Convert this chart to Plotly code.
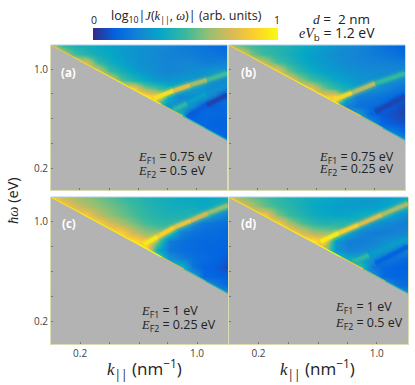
import plotly.graph_objects as go
from plotly.colors import sample_colorscale

W = 415
H = 385

parula = [[0, "#352a87"], [0.12, "#0363e1"], [0.25, "#1485d4"], [0.37, "#06a7c6"], [0.5, "#38b99e"],
          [0.62, "#92bf73"], [0.75, "#d9ba56"], [0.87, "#fcce2e"], [1, "#f9fb0e"]]

k_grid = [0.134, 0.158, 0.185, 0.218, 0.257, 0.302, 0.355, 0.418, 0.491, 0.578, 0.680, 0.799, 0.940, 1.106, 1.301, 1.530]
w_grid = [1.476, 1.283, 1.115, 0.969, 0.842, 0.731, 0.635, 0.552, 0.480, 0.417, 0.362, 0.315]

# light line, the gray part sits under it
edge_k = [0.134, 0.182, 0.246, 0.334, 0.453, 0.614, 0.833, 1.129, 1.530]
edge_w = [1.476, 1.218, 1.005, 0.829, 0.684, 0.565, 0.466, 0.384, 0.317]

tick_vals = [0.2, 1.0]
tick_text = ["0.2", "1.0"]
minor_vals = [0.3, 0.45, 0.67]

z_a = [
    [70, 48, 42, 40, 38, 36, 33, 31, 29, 27, 25, 22, 20, 18, 16, 13],
    [70, 70, 52, 45, 40, 37, 33, 30, 28, 26, 24, 23, 22, 20, 19, 17],
    [75, 75, 75, 75, 48, 40, 35, 31, 28, 26, 25, 25, 25, 22, 22, 24],
    [75, 75, 75, 75, 75, 50, 42, 35, 30, 27, 25, 26, 28, 30, 32, 30],
    [80, 80, 80, 80, 80, 80, 55, 45, 38, 32, 30, 32, 32, 30, 28, 26],
    [85, 85, 85, 85, 85, 85, 85, 85, 60, 52, 44, 40, 35, 30, 26, 22],
    [99, 99, 99, 99, 99, 99, 99, 99, 99, 80, 38, 25, 26, 28, 24, 15],
    [50, 50, 50, 50, 50, 50, 50, 50, 50, 50, 30, 30, 28, 16, 12, 15],
    [45, 45, 45, 45, 45, 45, 45, 45, 45, 45, 45, 45, 12, 14, 14, 14],
    [14, 14, 14, 14, 14, 14, 14, 14, 14, 14, 14, 14, 14, 14, 12, 12],
    [14, 14, 14, 14, 14, 14, 14, 14, 14, 14, 14, 14, 14, 14, 14, 12],
    [15, 15, 15, 15, 15, 15, 15, 15, 15, 15, 15, 15, 15, 15, 15, 15],
]
z_b = [
    [65, 55, 50, 47, 45, 43, 40, 37, 34, 30, 27, 25, 22, 18, 15, 12],
    [80, 80, 58, 50, 46, 42, 38, 34, 31, 28, 26, 24, 22, 20, 18, 15],
    [80, 80, 80, 70, 52, 46, 40, 35, 32, 29, 27, 25, 24, 23, 22, 22],
    [85, 85, 85, 85, 85, 58, 47, 40, 35, 32, 30, 28, 27, 27, 26, 26],
    [85, 85, 85, 85, 85, 85, 65, 52, 45, 38, 34, 31, 30, 28, 28, 24],
    [85, 85, 85, 85, 85, 85, 85, 80, 58, 48, 42, 34, 30, 26, 22, 18],
    [85, 85, 85, 85, 85, 85, 85, 85, 85, 88, 35, 22, 20, 18, 14, 10],
    [50, 50, 50, 50, 50, 50, 50, 50, 50, 50, 25, 18, 16, 14, 10, 5],
    [35, 35, 35, 35, 35, 35, 35, 35, 35, 35, 35, 35, 14, 10, 8, 5],
    [30, 30, 30, 30, 30, 30, 30, 30, 30, 30, 30, 30, 30, 13, 10, 8],
    [22, 22, 22, 22, 22, 22, 22, 22, 22, 22, 22, 22, 22, 22, 22, 13],
    [30, 30, 30, 30, 30, 30, 30, 30, 30, 30, 30, 30, 30, 30, 30, 30],
]
z_c = [
    [85, 72, 66, 62, 58, 54, 50, 47, 44, 42, 40, 38, 37, 37, 38, 40],
    [85, 85, 75, 68, 62, 58, 54, 50, 46, 43, 41, 40, 40, 38, 40, 42],
    [85, 85, 85, 85, 70, 62, 57, 52, 48, 45, 43, 44, 44, 42, 30, 22],
    [88, 88, 88, 88, 88, 75, 66, 58, 52, 48, 48, 46, 28, 20, 18, 16],
    [90, 90, 90, 90, 90, 90, 85, 70, 62, 60, 52, 24, 18, 16, 15, 14],
    [90, 90, 90, 90, 90, 90, 90, 92, 82, 60, 22, 17, 15, 14, 14, 13],
    [95, 95, 95, 95, 95, 95, 95, 95, 95, 40, 20, 17, 15, 14, 13, 12],
    [65, 65, 65, 65, 65, 65, 65, 65, 65, 65, 30, 22, 17, 15, 13, 10],
    [45, 45, 45, 45, 45, 45, 45, 45, 45, 45, 45, 45, 18, 13, 11, 7],
    [35, 35, 35, 35, 35, 35, 35, 35, 35, 35, 35, 35, 35, 14, 12, 12],
    [30, 30, 30, 30, 30, 30, 30, 30, 30, 30, 30, 30, 30, 30, 22, 14],
    [30, 30, 30, 30, 30, 30, 30, 30, 30, 30, 30, 30, 30, 30, 30, 30],
]
z_d = [
    [80, 62, 56, 52, 47, 44, 42, 40, 38, 36, 34, 32, 32, 33, 36, 40],
    [80, 80, 66, 56, 50, 46, 42, 38, 36, 34, 33, 33, 33, 36, 40, 42],
    [85, 85, 85, 85, 60, 50, 45, 40, 38, 36, 37, 40, 42, 42, 32, 26],
    [88, 88, 88, 88, 88, 66, 54, 47, 44, 46, 46, 44, 32, 26, 24, 22],
    [90, 90, 90, 90, 90, 90, 75, 64, 62, 58, 38, 25, 22, 22, 24, 26],
    [90, 90, 90, 90, 90, 90, 90, 95, 80, 32, 22, 22, 24, 28, 30, 30],
    [70, 70, 70, 70, 70, 70, 70, 70, 70, 30, 24, 26, 28, 30, 28, 24],
    [50, 50, 50, 50, 50, 50, 50, 50, 50, 50, 38, 35, 30, 24, 18, 14],
    [50, 50, 50, 50, 50, 50, 50, 50, 50, 50, 50, 50, 20, 14, 12, 11],
    [30, 30, 30, 30, 30, 30, 30, 30, 30, 30, 30, 30, 30, 14, 13, 14],
    [35, 35, 35, 35, 35, 35, 35, 35, 35, 35, 35, 35, 35, 35, 18, 15],
    [30, 30, 30, 30, 30, 30, 30, 30, 30, 30, 30, 30, 30, 30, 30, 30],
]

# narrow ridges and streaks: k, hbar omega, colour value
ridges_a = [
    ([0.555, 0.731, 0.920, 1.159, 1.530], [0.619, 0.703, 0.771, 0.838, 0.932], [100, 85, 72, 58, 45]),
    ([0.731, 0.879, 1.159, 1.530], [0.514, 0.572, 0.675, 0.771], [58, 38, 32, 26]),
    ([0.879, 1.159, 1.530], [0.457, 0.558, 0.656], [14, 8, 3]),
]
ridges_b = [
    ([0.566, 0.733, 1.014, 1.530], [0.604, 0.680, 0.793, 0.932], [100, 80, 58, 40]),
    ([1.014, 1.530], [0.500, 0.640], [10, 2]),
]
ridges_c = [
    ([0.482, 0.580, 0.731, 0.920, 1.159, 1.530], [0.693, 0.780, 0.909, 1.012, 1.140, 1.289], [100, 90, 84, 78, 70, 55]),
]
ridges_d = [
    ([0.466, 0.596, 0.783, 1.077, 1.530], [0.723, 0.828, 0.947, 1.115, 1.325], [100, 92, 82, 72, 60]),
    ([0.717, 0.899, 1.530], [0.522, 0.582, 0.763], [60, 36, 30]),
    ([0.982, 1.530], [0.509, 0.667], [14, 11]),
]

edge_a = [80, 88, 92, 95, 97, 72, 50, 42]
edge_b = [85, 90, 92, 95, 97, 80, 62, 45]
edge_c = [92, 95, 95, 97, 100, 75, 55, 45]
edge_d = [90, 92, 95, 97, 100, 85, 60, 45]

# pixel boxes of the panels: left, right, top, bottom
boxes = [(51, 227, 45, 190), (229, 405, 45, 190), (51, 228, 197, 344), (229, 408, 197, 344)]
panels = [z_a, z_b, z_c, z_d]
all_ridges = [ridges_a, ridges_b, ridges_c, ridges_d]
edges = [edge_a, edge_b, edge_c, edge_d]

SANS = "Open Sans"
SERIF = "Liberation Serif"


def px(x):
    return x / W


def py(y):
    return 1 - y / H


def col(v):
    return sample_colorscale(parula, v / 100)[0]


def m(s):
    return '<span style="font-family:%s"><i>%s</i></span>' % (SERIF, s)


fig = go.Figure()
for i in range(4):
    n = "" if i == 0 else str(i + 1)
    xa = "x" + n
    ya = "y" + n
    left, right, top, bottom = boxes[i]
    fig.add_trace(go.Heatmap(x=k_grid, y=w_grid, z=panels[i], coloraxis="coloraxis", zsmooth="best",
                             xaxis=xa, yaxis=ya, hoverinfo="skip"))
    for rk, rw, rz in all_ridges[i]:
        for wid, op in [(10, 0.18), (6, 0.5), (3.5, 0.95)]:
            for j in range(len(rk) - 1):
                fig.add_trace(go.Scatter(x=rk[j:j + 2], y=rw[j:j + 2], mode="lines", opacity=op,
                                         line=dict(color=col((rz[j] + rz[j + 1]) / 2), width=wid),
                                         xaxis=xa, yaxis=ya, showlegend=False, hoverinfo="skip"))
    # gray part below the light line
    fig.add_trace(go.Scatter(x=edge_k + [edge_k[-1], edge_k[0]], y=edge_w + [w_grid[-1] * 0.9, w_grid[-1] * 0.9],
                             mode="lines", fill="toself", fillcolor="#b3b3b3", line=dict(width=0),
                             xaxis=xa, yaxis=ya, showlegend=False, hoverinfo="skip"))
    for j in range(len(edge_k) - 1):
        fig.add_trace(go.Scatter(x=edge_k[j:j + 2], y=edge_w[j:j + 2], mode="lines",
                                 line=dict(color=col(edges[i][j]), width=1.2),
                                 xaxis=xa, yaxis=ya, showlegend=False, hoverinfo="skip"))
    fig.update_layout(**{
        "xaxis" + n: dict(type="log", range=[-0.873, 0.185], domain=[px(left), px(right)], anchor=ya,
                          tickvals=tick_vals, ticktext=tick_text, ticks="inside", ticklen=2, tickcolor="#777777",
                          minor=dict(tickvals=minor_vals, ticks="inside", ticklen=2, tickcolor="#777777"),
                          showticklabels=i >= 2, showgrid=False, zeroline=False, showline=True,
                          linecolor="#dcdcb4", linewidth=1, tickfont=dict(family=SANS, size=10, color="#444444")),
        "yaxis" + n: dict(type="log", range=[-0.852, 0.169], domain=[py(bottom), py(top)], anchor=xa,
                          tickvals=tick_vals, ticktext=tick_text, ticks="inside", ticklen=2, tickcolor="#777777",
                          minor=dict(tickvals=minor_vals, ticks="inside", ticklen=2, tickcolor="#777777"),
                          showticklabels=i in (0, 2), showgrid=False, zeroline=False, showline=True, mirror=True,
                          linecolor="#dcdcb4", linewidth=1, tickfont=dict(family=SANS, size=10, color="#444444")),
    })
    fig.add_shape(type="line", xref="paper", yref="paper", x0=px(left), x1=px(right), y0=py(top), y1=py(top),
                  line=dict(color="#a9cde6", width=1))


def note(x, y, text, size=12, color="#222222", xanchor="center", angle=0):
    fig.add_annotation(xref="paper", yref="paper", x=px(x), y=py(y), text=text, showarrow=False, xanchor=xanchor,
                       yanchor="middle", textangle=angle, font=dict(family=SANS, size=size, color=color))


for x, y, t in [(68.5, 73, "(a)"), (248, 73, "(b)"), (69, 223, "(c)"), (248, 223, "(d)")]:
    note(x, y, "<b>%s</b>" % t, size=11.5, color="white")

for x, y, t in [(136, 157, "0.75 eV"), (317, 157, "0.75 eV"), (139, 311, "1 eV"), (333, 307, "1 eV")]:
    note(x, y, m("E") + "<sub>F1</sub> = " + t, xanchor="left", size=12.5)
for x, y, t in [(136, 171, "0.5 eV"), (317, 170, "0.25 eV"), (139, 325, "0.25 eV"), (333, 323, "0.5 eV")]:
    note(x, y, m("E") + "<sub>F2</sub> = " + t, xanchor="left", size=12.5)

note(186, 16, "log<sub>10</sub>|" + m("J") + "(" + m("k") + "<sub>||</sub>, " + m("ω") + ")| (arb. units)", size=12.5)
note(94, 20, "0", size=10.5)
note(277, 20, "1", size=10.5)
note(341, 19, m("d") + " = &nbsp;2 nm", size=13.5)
note(337, 33, m("eV") + "<sub>b</sub> = 1.2 eV", size=14)
note(144, 368, m("k") + "<sub>||</sub> (nm<sup>−1</sup>)", size=17)
note(317, 368, m("k") + "<sub>||</sub> (nm<sup>−1</sup>)", size=17)
note(13, 201, m("ħω") + " (eV)", size=14.5, angle=-90)

fig.update_layout(
    width=W, height=H, margin=dict(l=0, r=0, t=0, b=0), paper_bgcolor="white", plot_bgcolor="#b3b3b3",
    showlegend=False,
    coloraxis=dict(colorscale=parula, cmin=0, cmax=100, colorbar=dict(
        orientation="h", x=px(93), xanchor="left", y=py(40), yanchor="bottom", len=185, lenmode="pixels",
        thickness=12, thicknessmode="pixels", outlinewidth=0, showticklabels=False, ticks="", xpad=0, ypad=0)),
)

fig.write_html("out.html", post_script="document.body.style.margin='0';", config=dict(displayModeBar=False))
